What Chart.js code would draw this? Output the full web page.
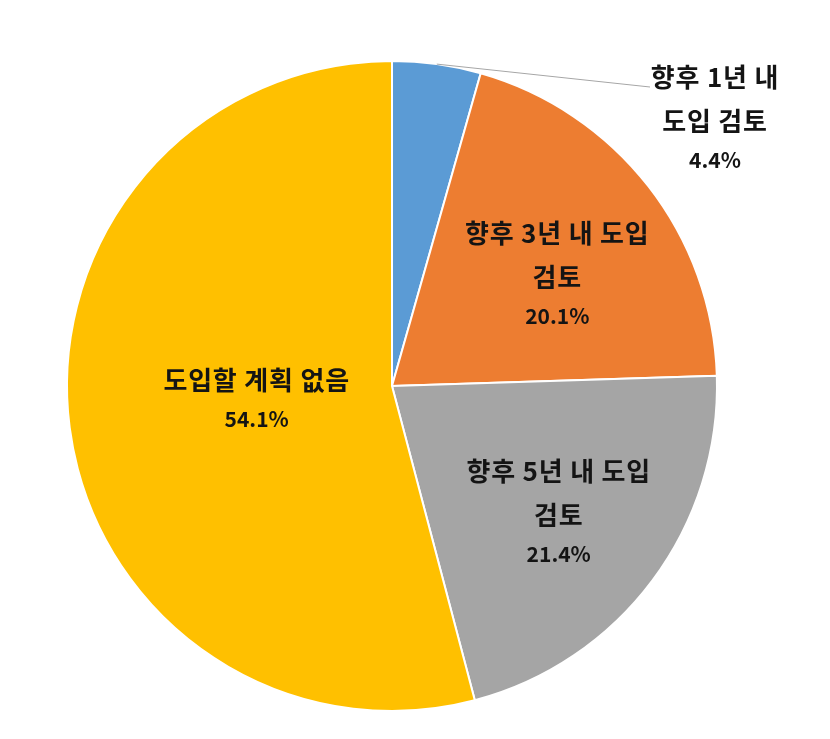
<!DOCTYPE html>
<html>
<head>
<meta charset="utf-8">
<script src="https://cdn.jsdelivr.net/npm/chart.js@4.4.0/dist/chart.umd.min.js"></script>
<style>
    html, body { margin: 0; padding: 0; background: #fff; }
    #wrap { width: 830px; height: 739px; }
</style>
</head>
<body>
<div id="wrap"><canvas id="pieChart"></canvas></div>
<script>
// chart data
const categories = ['향후 1년 내 도입 검토', '향후 3년 내 도입 검토', '향후 5년 내 도입 검토', '도입할 계획 없음'];
const shares = [4.4, 20.1, 21.4, 54.1];
const labelLines = [
    ['향후 1년 내', '도입 검토'],
    ['향후 3년 내 도입', '검토'],
    ['향후 5년 내 도입', '검토'],
    ['도입할 계획 없음']
];
const sliceColors = ['#5B9BD5', '#ED7D31', '#A5A5A5', '#FFC000'];

// label placement per slice: fraction of radius along mid angle, plus small nudge
const labelPlacement = [
    { outside: true, dx: 323, dy: -267, lineEndDx: 258, lineEndDy: -299 },
    { frac: 0.61, nx: 9, ny: 11 },
    { frac: 0.64, nx: 0, ny: 2 },
    { frac: 0.42, nx: 0, ny: -4 }
];

const textColor = '#141414';
const fontFamily = '"Noto Sans CJK KR", "Noto Sans", sans-serif';

const sliceLabels = {
    id: 'sliceLabels',
    afterDatasetsDraw(chart) {
        const ctx = chart.ctx;
        const meta = chart.getDatasetMeta(0);
        ctx.save();
        ctx.fillStyle = textColor;
        ctx.textAlign = 'center';
        ctx.textBaseline = 'middle';

        meta.data.forEach((arc, i) => {
            const p = arc.getProps(['x', 'y', 'startAngle', 'endAngle', 'outerRadius'], true);
            const mid = (p.startAngle + p.endAngle) / 2;
            const place = labelPlacement[i];
            const lines = labelLines[i].concat([shares[i].toFixed(1) + '%']);
            let cx, cy;

            if (place.outside) {
                cx = p.x + place.dx;
                cy = p.y + place.dy;
                // leader line from the rim to the label
                ctx.strokeStyle = '#a6a6a6';
                ctx.lineWidth = 1;
                ctx.beginPath();
                ctx.moveTo(p.x + Math.cos(mid) * p.outerRadius, p.y + Math.sin(mid) * p.outerRadius);
                ctx.lineTo(p.x + place.lineEndDx, p.y + place.lineEndDy);
                ctx.stroke();
            } else {
                const r = p.outerRadius * place.frac;
                cx = p.x + Math.cos(mid) * r + place.nx;
                cy = p.y + Math.sin(mid) * r + place.ny;
            }

            // line heights: text lines 44px apart, percentage 39px below
            const steps = [];
            for (let k = 0; k < lines.length - 1; k++) {
                steps.push(k === lines.length - 2 ? 39 : 44);
            }
            const total = steps.reduce((a, b) => a + b, 0);
            let y = cy - total / 2;
            lines.forEach((txt, k) => {
                const isPct = k === lines.length - 1;
                ctx.font = (isPct ? 'bold 21px ' : 'bold 26px ') + fontFamily;
                ctx.letterSpacing = isPct ? '0px' : '0.8px';
                ctx.fillText(txt, cx, y);
                if (k < steps.length) y += steps[k];
            });
        });
        ctx.restore();
    }
};

const ctx = document.getElementById('pieChart').getContext('2d');
new Chart(ctx, {
    type: 'pie',
    data: {
        labels: categories,
        datasets: [{
            data: shares,
            backgroundColor: sliceColors,
            borderColor: '#ffffff',
            borderWidth: 2
        }]
    },
    options: {
        responsive: true,
        maintainAspectRatio: false,
        animation: false,
        layout: {
            padding: { left: 66, right: 112, top: 60, bottom: 27 }
        },
        plugins: {
            legend: { display: false },
            tooltip: { enabled: false },
            title: { display: false }
        }
    },
    plugins: [sliceLabels]
});
</script>
</body>
</html>
